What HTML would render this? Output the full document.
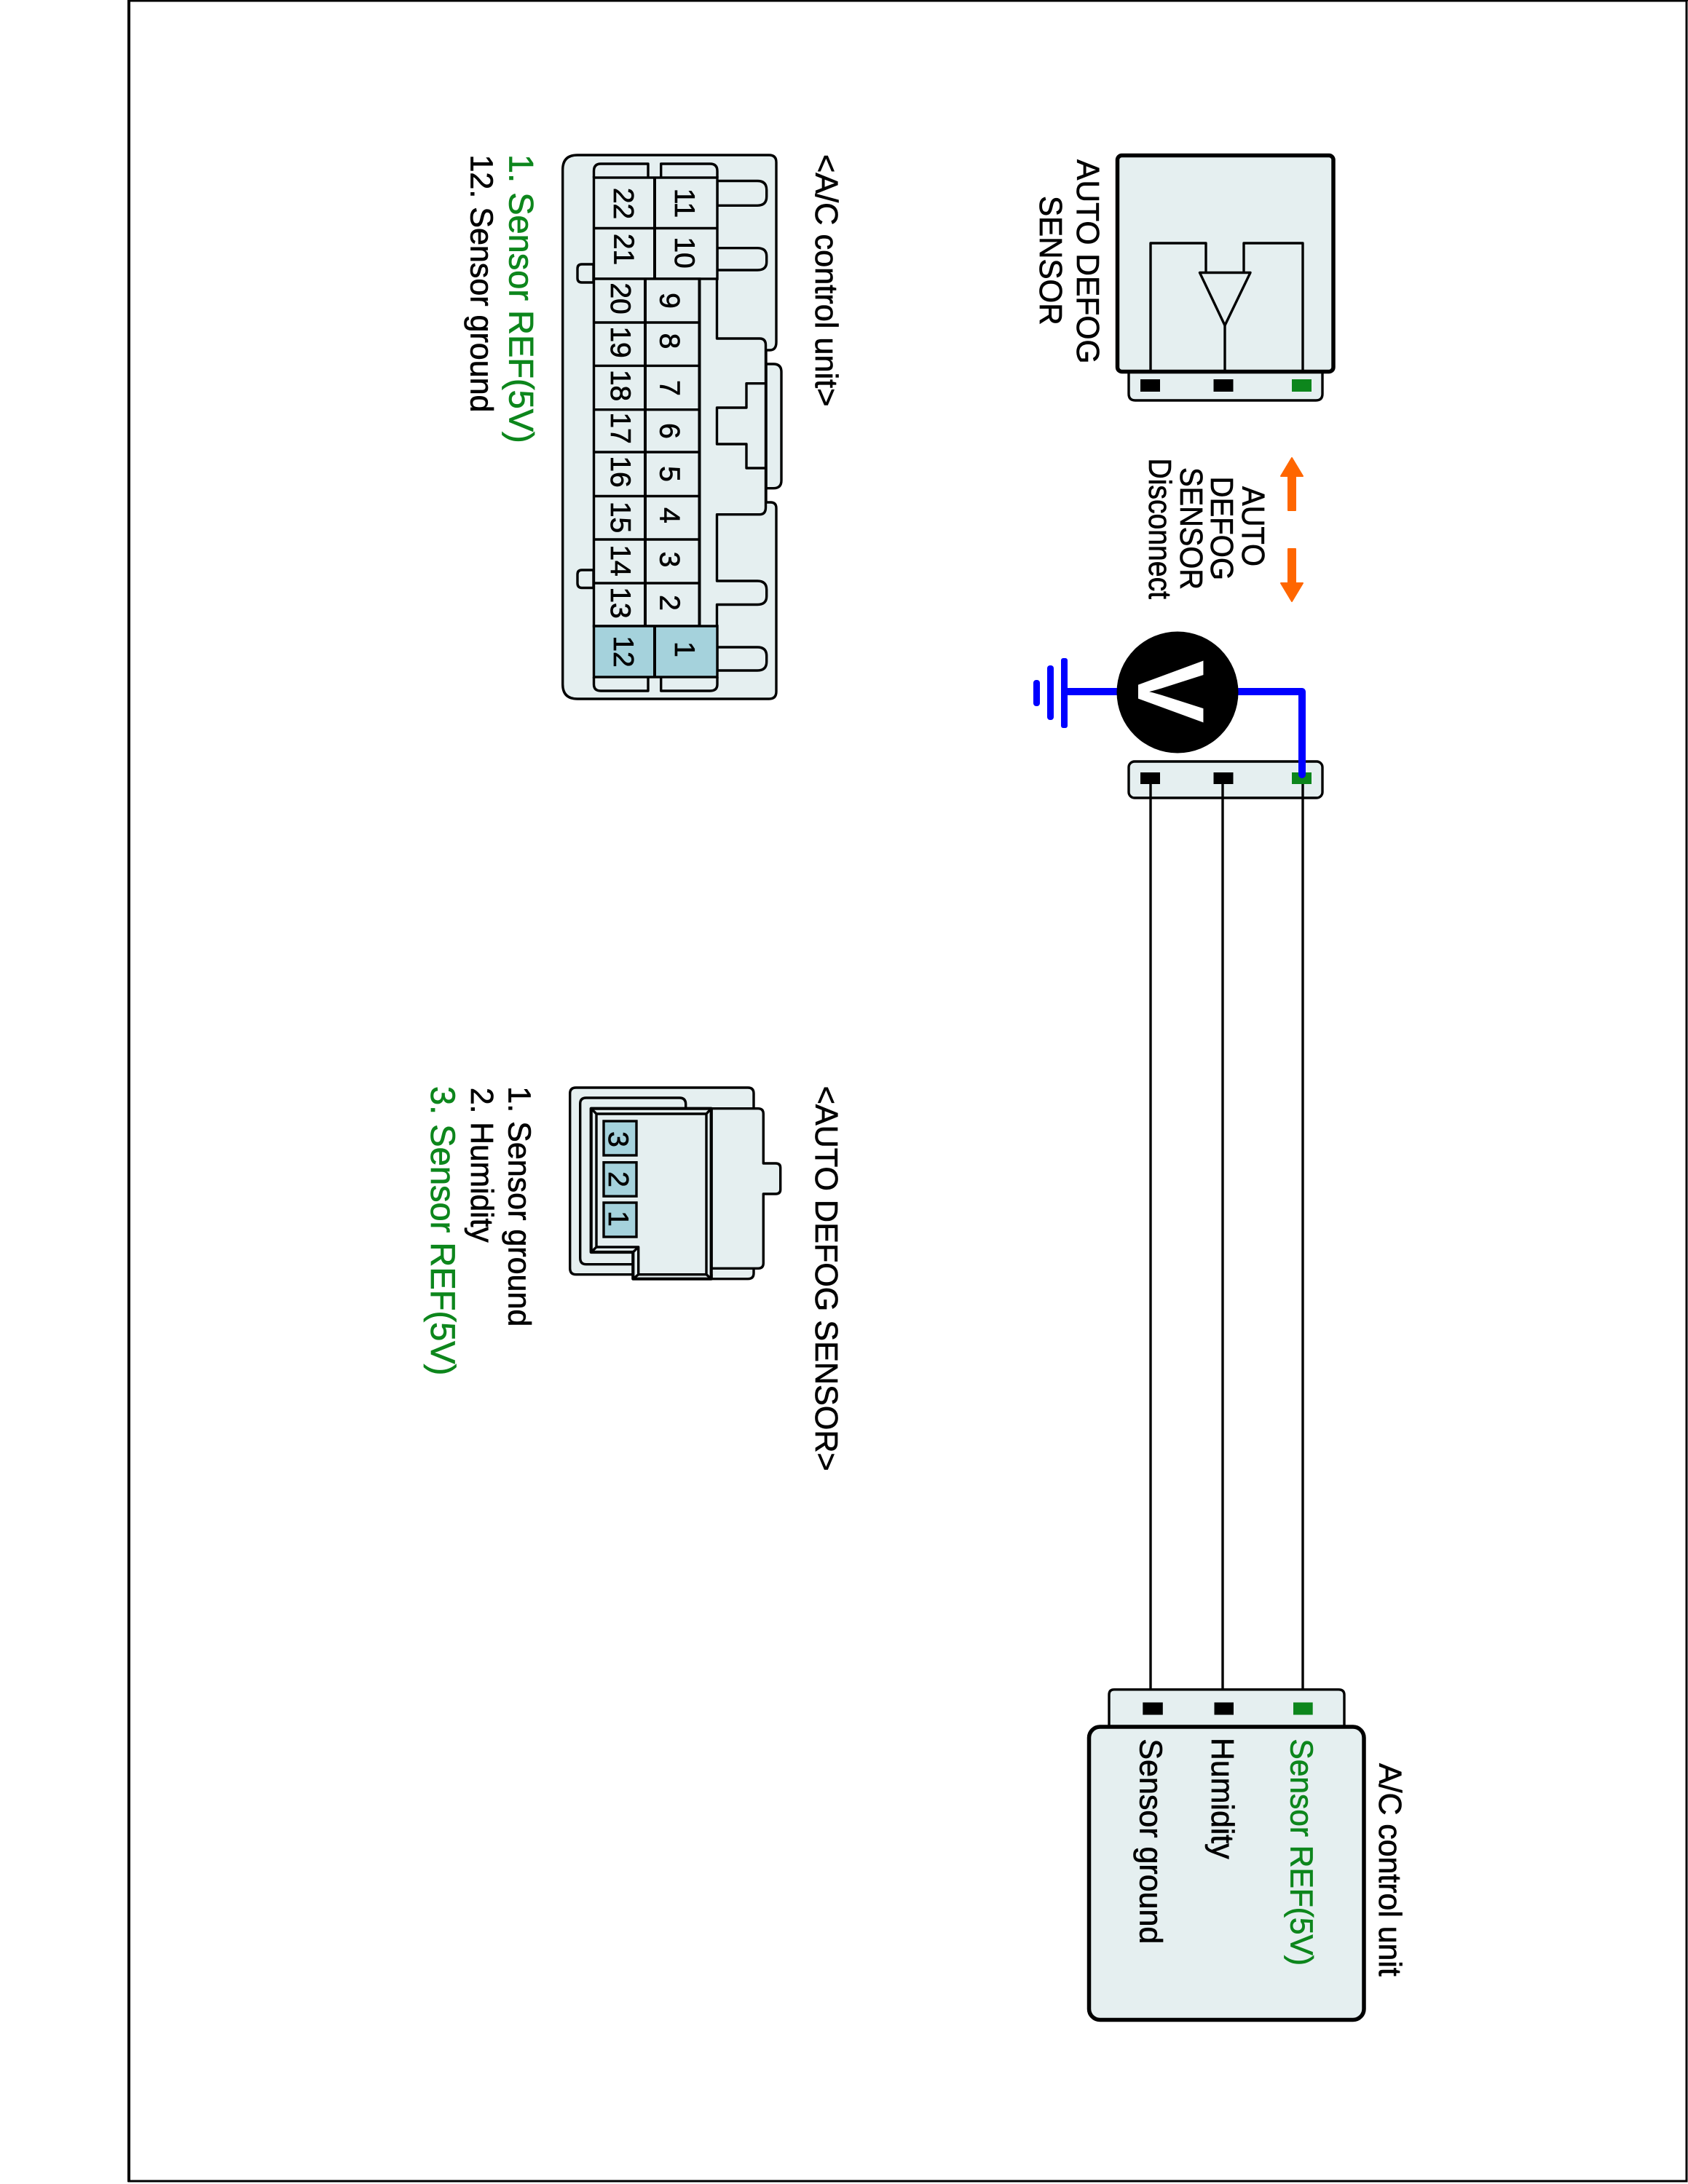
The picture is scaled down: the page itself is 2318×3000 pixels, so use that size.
<!DOCTYPE html>
<html><head><meta charset="utf-8"><style>
html,body{margin:0;padding:0;background:#fff;width:2318px;height:3000px;overflow:hidden}
svg{display:block}
text{font-family:"Liberation Sans",Arial,sans-serif;fill:#000;stroke:#000;stroke-width:.7px}
text.g{fill:#0d861c;stroke:#0d861c}
.t{font-size:44px}
.n{font-size:39px;text-anchor:middle}
.o{fill:none;stroke:#000;stroke-width:3.4;stroke-linejoin:round}
.f{fill:#e5eff0;stroke:#000;stroke-width:3.4;stroke-linejoin:round}
</style></head><body>
<svg width="2318" height="3000" viewBox="0 0 2318 3000" xmlns="http://www.w3.org/2000/svg">
<rect width="2318" height="3000" fill="#fff"/>
<rect x="177" y="1" width="2139" height="2995" fill="#fff" stroke="#000" stroke-width="3"/>
<line x1="175" y1="0" x2="2318" y2="0" stroke="#000" stroke-width="3"/>
<line x1="177" y1="0" x2="177" y2="2997" stroke="#000" stroke-width="4"/>

<!-- Sensor block -->
<path class="f" d="M1550 505V541Q1550 550 1559 550H1807Q1816 550 1816 541V505Z"/>
<rect x="1534.500" y="213.500" width="296.500" height="297" rx="6" fill="#e5eff0" stroke="#000" stroke-width="5.500"/>
<rect x="1566" y="521" width="27" height="17"/><rect x="1666.500" y="521" width="27" height="17"/>
<rect x="1774" y="521" width="27" height="17" fill="#0d861c"/>
<path class="o" d="M1580 510V334H1656V374.500M1708 374.500V334H1789V510M1682 447V510"/>
<path class="o" d="M1647.500 374.500H1717L1682 447Z"/>
<text class="t" transform="translate(1479,219) rotate(90)" textLength="280.600" lengthAdjust="spacingAndGlyphs">AUTO DEFOG</text>
<text class="t" transform="translate(1428,269) rotate(90)" textLength="177.600" lengthAdjust="spacingAndGlyphs">SENSOR</text>

<!-- Arrows -->
<path fill="#ff6600" stroke="#ff6600" stroke-width="2" stroke-linejoin="round" d="M1774 629L1789 654H1779V701H1769V654H1759Z"/>
<path fill="#ff6600" stroke="#ff6600" stroke-width="2" stroke-linejoin="round" d="M1774 826L1789 801H1779V754H1769V801H1759Z"/>
<text class="t" transform="translate(1706,668) rotate(90)" textLength="110" lengthAdjust="spacingAndGlyphs">AUTO</text>
<text class="t" transform="translate(1663,654.500) rotate(90)" textLength="142.500" lengthAdjust="spacingAndGlyphs">DEFOG</text>
<text class="t" transform="translate(1621,642) rotate(90)" textLength="168" lengthAdjust="spacingAndGlyphs">SENSOR</text>
<text class="t" transform="translate(1578,629.500) rotate(90)" textLength="193.500" lengthAdjust="spacingAndGlyphs">Disconnect</text>

<!-- Lower connector and wires -->
<path d="M1580 1070V2346M1679 1070V2346M1789 1070V2346" stroke="#000" stroke-width="3.400" fill="none"/>
<rect x="1550" y="1046" width="266" height="50" rx="8" fill="#e5eff0" stroke="#000" stroke-width="3.400"/>
<path d="M1580 1070V1096M1679 1070V1096M1789 1070V1096" stroke="#000" stroke-width="3.400" fill="none"/>
<rect x="1566" y="1061" width="27" height="16"/><rect x="1666.500" y="1061" width="27" height="16"/>
<rect x="1774" y="1061" width="27" height="16" fill="#0d861c"/>

<!-- Voltmeter -->
<path d="M1466 950H1534M1700 950H1788V1064" fill="none" stroke="#0000ff" stroke-width="10" stroke-linecap="round" stroke-linejoin="round"/>
<rect x="1457" y="904" width="9" height="96" rx="3" fill="#0000ff"/>
<rect x="1438" y="914" width="9" height="75" rx="4" fill="#0000ff"/>
<rect x="1419" y="934" width="9" height="36" rx="4" fill="#0000ff"/>
<circle cx="1617" cy="951" r="83.500" fill="#000"/>
<text transform="translate(1563,950) rotate(90)" text-anchor="middle" font-size="130" font-weight="700" style="fill:#fff;stroke:none">V</text>

<!-- A/C control unit -->
<path class="f" d="M1523 2374V2328Q1523 2320.800 1530 2320.800H1838Q1846 2320.800 1846 2328V2374Z"/>
<rect x="1495.500" y="2372" width="377.500" height="402.500" rx="15" fill="#e5eff0" stroke="#000" stroke-width="5.500"/>
<rect x="1569.300" y="2338.500" width="27.500" height="17"/><rect x="1667.500" y="2338.500" width="26.500" height="17"/>
<rect x="1776" y="2338.500" width="26.700" height="17" fill="#0d861c"/>
<text class="t g" transform="translate(1772.600,2388.400) rotate(90)" textLength="311.600" lengthAdjust="spacingAndGlyphs">Sensor REF(5V)</text>
<text class="t" transform="translate(1664,2387) rotate(90)" textLength="166.600" lengthAdjust="spacingAndGlyphs">Humidity</text>
<text class="t" transform="translate(1565.300,2388.400) rotate(90)" textLength="281.900" lengthAdjust="spacingAndGlyphs">Sensor ground</text>
<text class="t" transform="translate(1894,2422) rotate(90)" textLength="292.800" lengthAdjust="spacingAndGlyphs">A/C control unit</text>

<!-- A/C connector face -->
<path class="f" d="M1052 500H1062Q1073 500 1073 511V660Q1073 670.700 1062 670.700H1052Z"/>
<path class="f" d="M793 213H1056Q1066 213 1066 223V470Q1066 481 1057 481H1052V690H1058Q1066 690 1066 698V950Q1066 960 1056 960H793Q772.700 960 772.700 940V233Q772.700 213 793 213Z"/>
<path class="f" d="M815 363H799Q793 363 793 369V382Q793 388 799 388H815Z M815 783H799Q793 783 793 789V801Q793 807.500 799 807.500H815Z"/>
<path class="f" d="M985 248.500H1040Q1052.700 248.500 1052.700 261V270Q1052.700 282.300 1040 282.300H985ZM985 340.700H1040Q1052.700 340.700 1052.700 352V360Q1052.700 371 1040 371H985ZM985 889H1040Q1052.700 889 1052.700 901V909Q1052.700 921 1040 921H985Z"/>
<path class="o" d="M984.500 383V465H1043Q1051.500 465 1051.500 474V697Q1051.500 706.700 1043 706.700H984.500V798H1040Q1052.700 798 1052.700 810V819Q1052.700 830.500 1040 830.500H984.500V860"/>
<path class="o" d="M1051.500 526.700H1025V560H984.500V610H1025V643H1051.500"/>
<path class="o" d="M815.500 244V235Q815.500 225 825 225H890V244M907.700 244V225H975Q985 225 985 235V244"/>
<path class="o" d="M815.500 930V940Q815.500 949 825 949H890V930M907.700 930V949H975Q985 949 985 940V930"/>
<!-- cells -->
<rect x="815.500" y="244" width="169.500" height="139" fill="#e5eff0" stroke="#000" stroke-width="3.400"/>
<rect x="815.500" y="383" width="145" height="477" fill="#e5eff0" stroke="#000" stroke-width="3.400"/>
<rect x="815.500" y="860" width="169.500" height="70" fill="#a5d2dc" stroke="#000" stroke-width="3.400"/>
<path d="M815.500 313.500H985M815.500 443H960M815.500 502.400H960M815.500 562.700H960M815.500 621H960M815.500 681.500H960M815.500 741H960M815.500 801H960" stroke="#000" stroke-width="3.400" fill="none"/>
<path d="M899 244V383M899 860V930M886 383V860M960.500 383V860" stroke="#000" stroke-width="4" fill="none"/>
<text class="n" transform="translate(843,279.500) rotate(90)">22</text>
<text class="n" transform="translate(843.500,342.500) rotate(90)">21</text>
<text class="n" transform="translate(927,279) rotate(90)">11</text>
<text class="n" transform="translate(927,347) rotate(90)">10</text>
<text class="n" transform="translate(906.500,413) rotate(90)">9</text>
<text class="n" transform="translate(906.500,468.500) rotate(90)">8</text>
<text class="n" transform="translate(906.500,533) rotate(90)">7</text>
<text class="n" transform="translate(906.500,592) rotate(90)">6</text>
<text class="n" transform="translate(906.500,651) rotate(90)">5</text>
<text class="n" transform="translate(906.500,708) rotate(90)">4</text>
<text class="n" transform="translate(906.500,768.500) rotate(90)">3</text>
<text class="n" transform="translate(906.500,828) rotate(90)">2</text>
<text class="n" transform="translate(839,410) rotate(90)">20</text>
<text class="n" transform="translate(839,470) rotate(90)">19</text>
<text class="n" transform="translate(839,529.500) rotate(90)">18</text>
<text class="n" transform="translate(839,588) rotate(90)">17</text>
<text class="n" transform="translate(839,648) rotate(90)">16</text>
<text class="n" transform="translate(839,710.500) rotate(90)">15</text>
<text class="n" transform="translate(839,770) rotate(90)">14</text>
<text class="n" transform="translate(839,828) rotate(90)">13</text>
<text class="n" transform="translate(843,895) rotate(90)">12</text>
<text class="n" transform="translate(927,892) rotate(90)">1</text>

<text class="t" transform="translate(1120,212) rotate(90)" textLength="346.500" lengthAdjust="spacingAndGlyphs">&lt;A/C control unit&gt;</text>
<text class="t g" transform="translate(699.300,212) rotate(90)" textLength="396.700" lengthAdjust="spacingAndGlyphs" style="font-size:47px">1. Sensor REF(5V)</text>
<text class="t" transform="translate(646.700,212.500) rotate(90)" textLength="354" lengthAdjust="spacingAndGlyphs">12. Sensor ground</text>

<!-- Sensor connector face -->
<path class="f" d="M791 1494H1027Q1035 1494 1035 1502V1749Q1035 1756.700 1027 1756.700H977V1750.700H791Q782.700 1750.700 782.700 1742V1502Q782.700 1494 791 1494Z"/>
<path class="f" d="M805 1508H933Q941.700 1508 941.700 1517V1736.700H805Q796.700 1736.700 796.700 1728V1516Q796.700 1508 805 1508Z"/>
<path class="f" d="M977 1522.700H1041Q1048.300 1522.700 1048.300 1530V1598H1065Q1071.700 1598 1071.700 1604V1634Q1071.700 1640 1065 1640H1048.300V1735Q1048.300 1742.300 1041 1742.300H977Z"/>
<path class="f" d="M811.700 1522.700H976.700V1756.700H869.300V1720H811.700Z" style="stroke-width:4.200"/>
<path class="o" d="M819 1530H970V1750.700H876.700V1713H819ZM811.700 1522.700L819 1530M976.700 1522.700L970 1530M976.700 1756.700L970 1750.700M869.300 1756.700L876.700 1750.700M869.300 1720L876.700 1713M811.700 1720L819 1713"/>
<rect x="829" y="1540" width="45" height="47" fill="#a5d2dc" stroke="#000" stroke-width="3.400"/>
<rect x="829" y="1596.700" width="45" height="46.500" fill="#a5d2dc" stroke="#000" stroke-width="3.400"/>
<rect x="829" y="1652" width="45" height="47" fill="#a5d2dc" stroke="#000" stroke-width="3.400"/>
<text class="n" transform="translate(836,1565) rotate(90)">3</text>
<text class="n" transform="translate(836,1620) rotate(90)">2</text>
<text class="n" transform="translate(836,1674) rotate(90)">1</text>

<text class="t" transform="translate(1120,1491.700) rotate(90)" textLength="529" lengthAdjust="spacingAndGlyphs">&lt;AUTO DEFOG SENSOR&gt;</text>
<text class="t" transform="translate(698.500,1492.300) rotate(90)" textLength="330" lengthAdjust="spacingAndGlyphs">1. Sensor ground</text>
<text class="t" transform="translate(647,1494) rotate(90)" textLength="212.700" lengthAdjust="spacingAndGlyphs">2. Humidity</text>
<text class="t g" transform="translate(592,1492) rotate(90)" textLength="397.300" lengthAdjust="spacingAndGlyphs" style="font-size:47px">3. Sensor REF(5V)</text>
</svg>
</body></html>
